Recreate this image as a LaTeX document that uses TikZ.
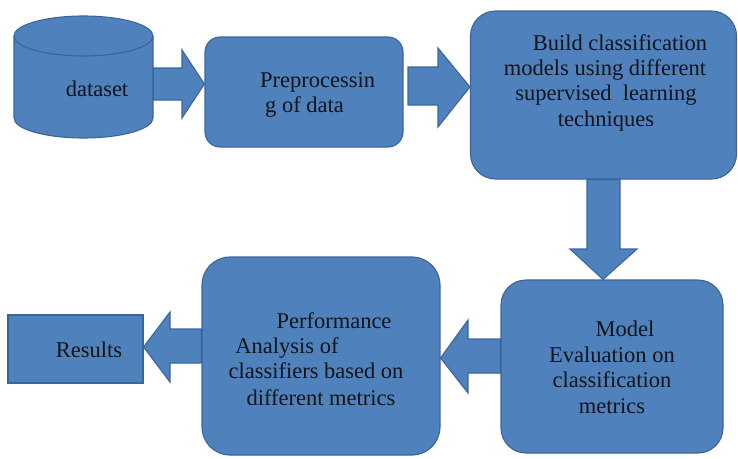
\documentclass[tikz,border=0pt]{standalone}
\usepackage{fontspec}
\setmainfont{Liberation Serif}
\definecolor{boxfill}{HTML}{4F81BD}
\definecolor{boxline}{HTML}{3B659A}
\definecolor{txt}{HTML}{111418}
\begin{document}
\begin{tikzpicture}[x=1pt,y=-1pt,
  shapestyle/.style={fill=boxfill,draw=boxline,line width=1.1pt},
  roundbox/.style={shapestyle,rectangle,inner sep=0pt},
  blk/.style={shapestyle,line join=miter},
  lbl/.style={text=txt,font=\fontsize{22.5}{25}\selectfont,inner sep=0pt,anchor=base}]
\useasboundingbox (0,0) rectangle (738,458);
% cylinder (dataset)
\node[inner sep=0pt,minimum width=139pt,minimum height=122pt] (db) at (83.5,77) {};
\draw[shapestyle] (14,36) -- (14,118)
  arc[start angle=180,end angle=360,x radius=69.5pt,y radius=20pt]
  -- (153,36)
  arc[start angle=0,end angle=180,x radius=69.5pt,y radius=20pt] -- cycle;
\draw[boxline,line width=1.1pt] (153,36)
  arc[start angle=0,end angle=-180,x radius=69.5pt,y radius=20pt];
\node[lbl] (dbT) at (97,96) {dataset};
% boxes
\node[roundbox,rounded corners=15pt,minimum width=198pt,minimum height=110pt] (pre) at (304,92) {};
\node[roundbox,rounded corners=25pt,minimum width=266pt,minimum height=168pt] (build) at (603.5,95) {};
\node[roundbox,rounded corners=25pt,minimum width=222pt,minimum height=173pt] (model) at (612,366.5) {};
\node[roundbox,rounded corners=28pt,minimum width=238pt,minimum height=198pt] (perf) at (321,356) {};
\node[roundbox,minimum width=135pt,minimum height=68pt] (res) at (75.5,349) {};
% texts
\node[lbl,anchor=base west] (preT1) at (260,87) {Preprocessin};
\node[lbl,anchor=base west] (preT2) at (265,112) {g of data};
\node[lbl] (bT1) at (620,50) {Build classification};
\node[lbl] (bT2) at (605,75) {models using different};
\node[lbl] (bT3) at (606,100) {supervised\ \ learning};
\node[lbl] (bT4) at (606,126) {techniques};
\node[lbl] (mT1) at (625,336) {Model};
\node[lbl] (mT2) at (612,362) {Evaluation on};
\node[lbl] (mT3) at (612,387) {classification};
\node[lbl] (mT4) at (612,413) {metrics};
\node[lbl] (pT1) at (334,328) {Performance};
\node[lbl] (pT2) at (287,353) {Analysis of};
\node[lbl] (pT3) at (316,378) {classifiers based on};
\node[lbl] (pT4) at (321,405) {different metrics};
\node[lbl] (rT) at (89,357) {Results};
% block arrows
\draw[blk] (db.east |- 0,68) -- (182,68) -- (182,50) -- (pre.west |- 0,84)
  -- (182,118) -- (182,100) -- (db.east |- 0,100) -- cycle;
\draw[blk] (408,67) -- (438,67) -- (438,48) -- (build.west |- 0,87)
  -- (438,127) -- (438,105) -- (408,105) -- cycle;
\draw[blk] (587,0 |- build.south) -- (587,249) -- (570,249) -- (603,0 |- model.north)
  -- (637,249) -- (620,249) -- (620,0 |- build.south) -- cycle;
\draw[blk] (model.west |- 0,339) -- (468,339) -- (468,320) -- (perf.east |- 0,358)
  -- (468,393) -- (468,373) -- (model.west |- 0,373) -- cycle;
\draw[blk] (perf.west |- 0,329) -- (170,329) -- (170,312) -- (res.east |- 0,347)
  -- (170,382) -- (170,363) -- (perf.west |- 0,363) -- cycle;
\end{tikzpicture}
\end{document}
